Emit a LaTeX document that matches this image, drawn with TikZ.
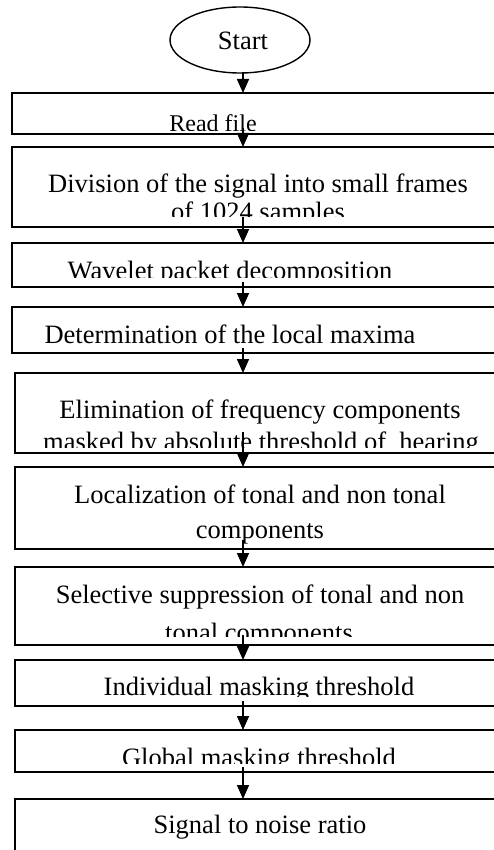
\documentclass[tikz,border=0pt]{standalone}
\usepackage{fontspec}
\setmainfont{Liberation Serif}
\usetikzlibrary{arrows.meta,calc,shapes.geometric}
\tikzset{
  stepbox/.style={draw, line width=1.4pt, minimum width=490pt, anchor=north west,
                  inner sep=0pt, outer sep=0pt},
  lbl/.style={anchor=base, inner sep=0pt, font=\fontsize{26.5}{27}\selectfont},
  flow/.style={line width=1.6pt, -{Triangle[length=14pt,width=12pt]}},
}
\begin{document}
\begin{tikzpicture}[x=1pt,y=-1pt]
\useasboundingbox (0,0) rectangle (494,850);
\fill[white] (0,0) rectangle (494,850);
\clip (0,0) rectangle (494,850);

% vertical axis of the flow arrows
\coordinate (axis) at (243,0);

% start terminal
\node[draw, ellipse, line width=1.4pt, minimum width=140pt, minimum height=66pt,
      inner sep=0pt] (start) at (240,40) {};
\node[lbl] (startT) at (243,50) {Start};

% process boxes (they run on past the right edge)
\node[stepbox, minimum height=41pt] (b1) at (12,93) {};
\node[stepbox, minimum height=80pt] (b2) at (12,147) {};
\node[stepbox, minimum height=44pt] (b3) at (12,243) {};
\node[stepbox, minimum height=46pt] (b4) at (12,307) {};
\node[stepbox, minimum height=80pt] (b5) at (15,373) {};
\node[stepbox, minimum height=82pt] (b6) at (15,467) {};
\node[stepbox, minimum height=78pt] (b7) at (15,567) {};
\node[stepbox, minimum height=46pt] (b8) at (15,660) {};
\node[stepbox, minimum height=42pt] (b9) at (15,730) {};
\node[stepbox, minimum height=70pt] (b10) at (15,799) {};

% box texts, cut off at the lower edge of each text area
\begin{scope}
  \clip (13,94) rectangle (494,131);
  \node[lbl, font=\fontsize{24}{24}\selectfont] (t1) at (213,132) {Read file};
\end{scope}
\begin{scope}
  \clip (13,148) rectangle (494,217);
  \node[lbl] (t2a) at (258,193) {Division of the signal into small frames};
  \node[lbl] (t2b) at (258,220) {of 1024 samples};
\end{scope}
\begin{scope}
  \clip (13,244) rectangle (494,277);
  \node[lbl] (t3) at (230,279) {Wavelet packet decomposition};
\end{scope}
\node[lbl] (t4) at (230,343) {Determination of the local maxima};
\begin{scope}
  \clip (16,374) rectangle (494,447);
  \node[lbl] (t5a) at (260,418) {Elimination of frequency components};
  \node[lbl] (t5b) at (261,450) {masked by absolute threshold of\ \ hearing};
\end{scope}
\node[lbl] (t6a) at (260,503) {Localization of tonal and non tonal};
\node[lbl] (t6b) at (260,538) {components};
\begin{scope}
  \clip (16,568) rectangle (494,636);
  \node[lbl] (t7a) at (260,603) {Selective suppression of tonal and non};
  \node[lbl] (t7b) at (259,641) {tonal components};
\end{scope}
\begin{scope}
  \clip (16,661) rectangle (494,696);
  \node[lbl] (t8) at (259,695) {Individual masking threshold};
\end{scope}
\begin{scope}
  \clip (16,731) rectangle (494,763);
  \node[lbl] (t9) at (259,766) {Global masking threshold};
\end{scope}
\node[lbl] (t10) at (260,833) {Signal to noise ratio};

% flow arrows
\draw[flow] ($(axis |- start.south)+(0,-2)$) -- (axis |- b1.north);
\draw[flow] ($(axis |- b1.south)+(0,-6)$) -- (axis |- b2.north);
\draw[flow] ($(axis |- b2.south)+(0,-10)$) -- (axis |- b3.north);
\draw[flow] ($(axis |- b3.south)+(0,-5)$) -- (axis |- b4.north);
\draw[flow] ($(axis |- b4.south)+(0,-5)$) -- (axis |- b5.north);
\draw[flow] ($(axis |- b5.south)+(0,-21)$) -- (axis |- b6.north);
\draw[flow] ($(axis |- b6.south)+(0,-9)$) -- (axis |- b7.north);
\draw[flow] ($(axis |- b7.south)+(0,-10)$) -- (axis |- b8.north);
\draw[flow] ($(axis |- b8.south)+(0,-5)$) -- (axis |- b9.north);
\draw[flow] ($(axis |- b9.south)+(0,-5)$) -- (axis |- b10.north);
\end{tikzpicture}
\end{document}
